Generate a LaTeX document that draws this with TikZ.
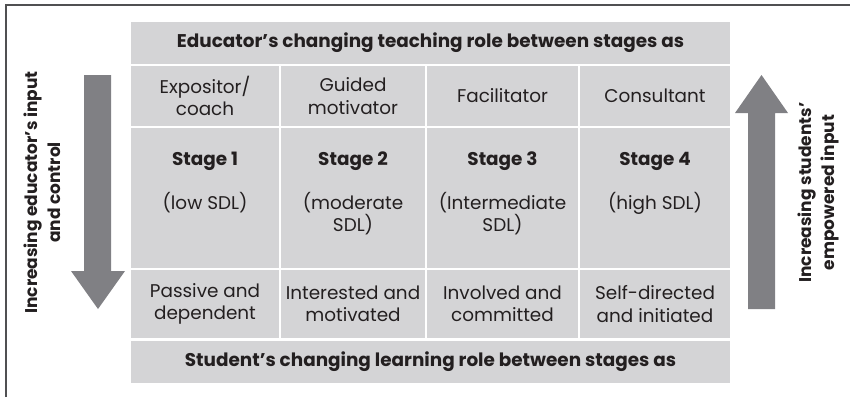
\documentclass[tikz,border=0pt]{standalone}
\usepackage{fontspec}
\setmainfont{Poppins}
\definecolor{cellgray}{HTML}{D4D4D6}
\definecolor{arrowgray}{HTML}{808084}
\definecolor{txtcol}{HTML}{231F20}
\definecolor{framecol}{HTML}{505052}
\begin{document}
\begin{tikzpicture}[x=1pt,y=-1pt,
  cell/.style={fill=cellgray, draw=none, inner sep=0pt, text=txtcol, align=center,
    font=\fontsize{18.4}{22.5}\selectfont},
  hdr/.style={cell, font=\fontsize{18.4}{22.5}\selectfont\bfseries},
  txt/.style={inner sep=0pt, text=txtcol, align=center, font=\fontsize{18.4}{22.5}\selectfont},
  stg/.style={txt, font=\fontsize{18.4}{22.5}\selectfont\bfseries},
  side/.style={inner sep=0pt, text=txtcol, align=center, rotate=90, font=\fontsize{17}{23}\selectfont\bfseries},
  bigarrow/.style={fill=arrowgray, draw=none}]
\useasboundingbox (0,0) rectangle (850,397);
\draw[framecol, line width=1.2pt] (6,397) -- (6,5) -- (850,5);
% header and footer
\node[hdr, minimum width=599pt, minimum height=42pt] (top) at (430.5,43) {Educator’s changing teaching role between stages as};
\node[hdr, minimum width=599pt, minimum height=42pt] (bot) at (430.5,362) {Student’s changing learning role between stages as};
% row 2
\node[cell, minimum width=148pt, minimum height=60pt] (r1c1) at (205,96) {Expositor/\\coach};
\node[cell, minimum width=144pt, minimum height=60pt] (r1c2) at (353,96) {Guided\\motivator};
\node[cell, minimum width=151pt, minimum height=60pt] (r1c3) at (502.5,96) {Facilitator};
\node[cell, minimum width=150pt, minimum height=60pt] (r1c4) at (655,96) {Consultant};
% row 3
\node[cell, minimum width=148pt, minimum height=140pt] (r2c1) at (205,198) {};
\node[cell, minimum width=144pt, minimum height=140pt] (r2c2) at (353,198) {};
\node[cell, minimum width=151pt, minimum height=140pt] (r2c3) at (502.5,198) {};
\node[cell, minimum width=150pt, minimum height=140pt] (r2c4) at (655,198) {};
\node[stg, anchor=base] (s1) at (205,165) {Stage 1};
\node[stg, anchor=base] (s2) at (353,165) {Stage 2};
\node[stg, anchor=base] (s3) at (502.5,165) {Stage 3};
\node[stg, anchor=base] (s4) at (655,165) {Stage 4};
\node[txt, anchor=base] (d1) at (205,209) {(low SDL)};
\node[txt, anchor=base] (d2) at (353,231.5) {(moderate\\SDL)};
\node[txt, anchor=base] (d3) at (502.5,231.5) {(Intermediate\\SDL)};
\node[txt, anchor=base] (d4) at (655,209) {(high SDL)};
% row 4
\node[cell, minimum width=148pt, minimum height=68pt] (r3c1) at (205,304) {Passive and\\dependent};
\node[cell, minimum width=144pt, minimum height=68pt] (r3c2) at (353,304) {Interested and\\motivated};
\node[cell, minimum width=151pt, minimum height=68pt] (r3c3) at (502.5,304) {Involved and\\committed};
\node[cell, minimum width=150pt, minimum height=68pt] (r3c4) at (655,304) {Self-directed\\and initiated};
% arrows
\fill[bigarrow] (84,75) -- (111,75) -- (111,271) -- (125,271) -- (98,309) -- (71,271) -- (84,271) -- cycle;
\fill[bigarrow] (748,309) -- (775,309) -- (775,113) -- (788,113) -- (761.5,75) -- (735,113) -- (748,113) -- cycle;
% side labels
\node[side] (lt) at (42,192.5) {Increasing educator’s input\\and control};
\node[side] (rt) at (818,192.5) {Increasing students’\\empowered input};
\end{tikzpicture}
\end{document}
